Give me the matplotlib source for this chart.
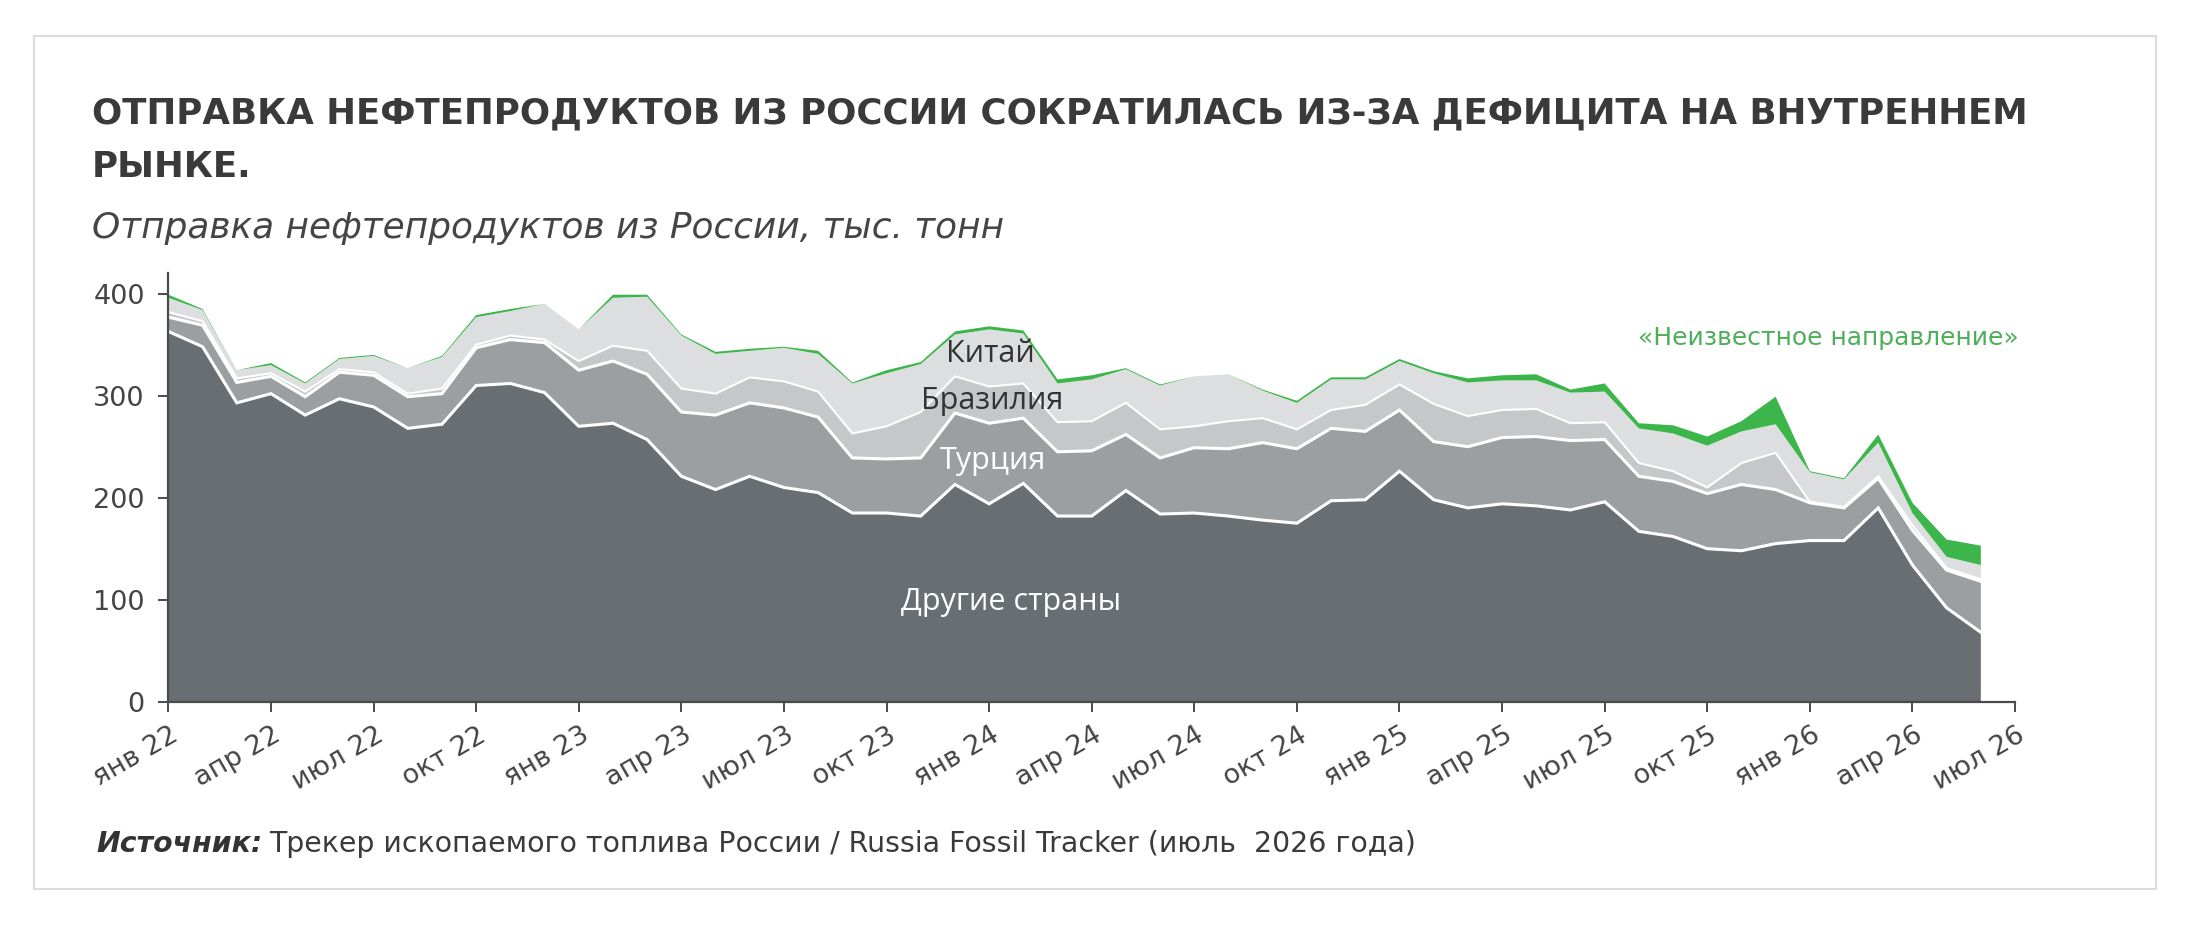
import matplotlib.pyplot as plt
import matplotlib.transforms as mtransforms
import numpy as np
from matplotlib.patches import Rectangle

plt.rcParams['font.family'] = ['DejaVu Sans']

# monthly shipments, thousand tonnes, Jan 2022 - Jun 2026
other = [363, 348, 293, 302, 281, 297, 289, 268, 272, 310, 312, 303,
         270, 273, 257, 221, 208, 221, 210, 205, 185, 185, 182, 213,
         194, 214, 182, 182, 207, 184, 185, 182, 178, 175, 197, 198,
         226, 198, 190, 194, 192, 188, 196, 167, 162, 150, 148, 155,
         158, 158, 190, 134, 92, 68]
turkey = [14, 21, 20, 17, 18, 26, 31, 31, 30, 37, 43, 49,
          55, 61, 64, 63, 73, 72, 78, 74, 54, 53, 57, 70,
          79, 64, 63, 64, 55, 55, 64, 66, 76, 73, 71, 67,
          60, 57, 60, 65, 68, 68, 61, 54, 54, 54, 65, 53,
          37, 32, 29, 34, 37, 50]
brazil = [5, 4, 4, 3, 5, 3, 3, 3, 5, 3, 4, 3,
          9, 15, 23, 23, 21, 25, 26, 25, 24, 32, 45, 36,
          36, 34, 29, 29, 31, 28, 21, 27, 24, 19, 18, 26,
          25, 37, 30, 27, 27, 17, 17, 13, 10, 6, 21, 36,
          1, 1, 2, 5, 2, 2]
china = [14, 11, 8, 8, 8, 10, 16, 25, 31, 27, 24, 35,
         31, 47, 53, 52, 39, 26, 33, 37, 49, 52, 47, 41,
         56, 49, 38, 41, 33, 43, 49, 46, 27, 26, 30, 25,
         23, 30, 33, 29, 28, 30, 30, 34, 37, 41, 31, 28,
         29, 27, 33, 12, 11, 14]
unknown = [3, 1, 0, 2, 1, 1, 1, 0, 1, 2, 2, 0,
           0, 3, 2, 1, 2, 2, 1, 3, 1, 3, 2, 3,
           3, 3, 4, 4, 1, 1, 0, 0, 1, 2, 2, 2,
           2, 2, 4, 5, 6, 3, 8, 5, 8, 9, 10, 27,
           1, 1, 8, 10, 17, 19]

tick_labels = ['янв 22', 'апр 22', 'июл 22', 'окт 22', 'янв 23', 'апр 23',
               'июл 23', 'окт 23', 'янв 24', 'апр 24', 'июл 24', 'окт 24',
               'янв 25', 'апр 25', 'июл 25', 'окт 25', 'янв 26', 'апр 26',
               'июл 26']

colors = ['#686e71', '#9c9fa2', '#c5c7c9', '#dcdedf', '#3cb54a']

x = np.arange(len(other))
layers = np.vstack([other, turkey, brazil, china, unknown])
cum = np.cumsum(layers, axis=0)

fig = plt.figure(figsize=(21.9, 9.35), dpi=100)
ax = fig.add_axes([0.0769, 0.2495, 0.8432, 0.4582])

ax.stackplot(x, layers, colors=colors, linewidth=0)
# white separators between the layers
for i, lw in zip(range(3), [2.2, 2.2, 1.5]):
    ax.plot(x, cum[i], color='white', lw=lw, solid_joinstyle='miter')

ax.set_xlim(0, 54)
ax.set_ylim(0, 420)
ax.set_yticks([0, 100, 200, 300, 400])
ax.set_xticks(np.arange(0, 55, 3))
ax.set_xticklabels(tick_labels)

for s in ['top', 'right']:
    ax.spines[s].set_visible(False)
for s in ['left', 'bottom']:
    ax.spines[s].set_color('#4a4a4a')
    ax.spines[s].set_linewidth(1.6)

ax.tick_params(axis='both', colors='#4a4a4a', labelcolor='#444444',
               labelsize=19.5, length=7, width=1.4)
ax.tick_params(axis='y', pad=10)
ax.tick_params(axis='x', pad=16)
shift = mtransforms.ScaledTranslation(8 / 100, 0, fig.dpi_scale_trans)
for lab in ax.get_xticklabels():
    lab.set_rotation(30)
    lab.set_ha('right')
    lab.set_va('center')
    lab.set_rotation_mode('anchor')
    lab.set_transform(lab.get_transform() + shift)

# layer labels
lab_font = ['Open Sans', 'DejaVu Sans']
ax.text(24.05, 341, 'Китай', ha='center', va='center', fontsize=22,
        color='#333333', family=lab_font)
ax.text(24.1, 295, 'Бразилия', ha='center', va='center', fontsize=22,
        color='#333333', family=lab_font)
ax.text(24.1, 236, 'Турция', ha='center', va='center', fontsize=22,
        color='white', family=lab_font)
ax.text(24.65, 98, 'Другие страны', ha='center', va='center', fontsize=22,
        color='white', family=lab_font)
ax.text(48.55, 357, '«Неизвестное направление»', ha='center', va='center',
        fontsize=18, color='#4fae5a')

# titles
fig.text(92 / 2190, 1 - 123 / 935, 'ОТПРАВКА НЕФТЕПРОДУКТОВ ИЗ РОССИИ СОКРАТИЛАСЬ ИЗ-ЗА ДЕФИЦИТА НА ВНУТРЕННЕМ',
         fontsize=25.7, fontweight='bold', color='#3a3a3a', va='baseline')
fig.text(92 / 2190, 1 - 177 / 935, 'РЫНКЕ.',
         fontsize=25.7, fontweight='bold', color='#3a3a3a', va='baseline')
fig.text(92 / 2190, 1 - 238 / 935, 'Отправка нефтепродуктов из России, тыс. тонн',
         fontsize=25.8, style='italic', color='#454545', va='baseline')

src = fig.text(96 / 2190, 1 - 852 / 935, 'Источник:', fontsize=20.4,
               fontweight='bold', style='italic', color='#333333', va='baseline')
fig.add_artist(plt.Annotation('Трекер ископаемого топлива России / Russia Fossil Tracker (июль  2026 года)',
                              xy=(1, 0), xycoords=src, xytext=(5, 0),
                              textcoords='offset points', va='bottom',
                              fontsize=20.4, color='#3a3a3a'))

# frame around the chart card
fig.patches.append(Rectangle((33.5 / 2190, 1 - 888.5 / 935), (2156 - 33.5) / 2190,
                             (888.5 - 36.3) / 935, transform=fig.transFigure,
                             fill=False, edgecolor='#dcdcdc', lw=1.5))

fig.savefig('out.png', dpi=100)
